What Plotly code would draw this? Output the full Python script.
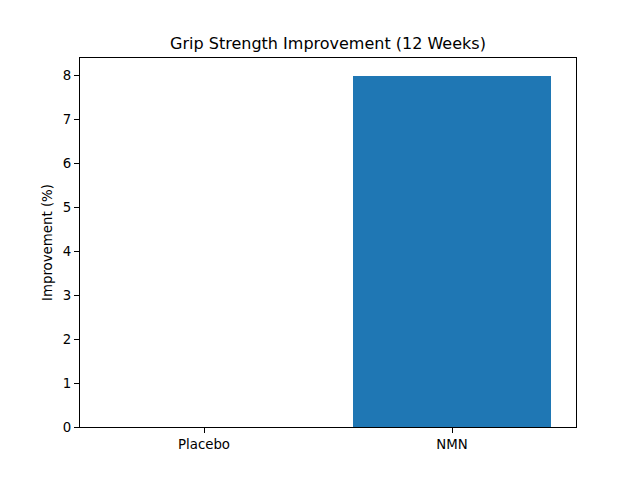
import plotly.graph_objects as go

# data
groups = ["Placebo", "NMN"]
improvement = [0, 8]

fig = go.Figure()
fig.add_trace(go.Bar(x=[0, 1], y=improvement,
                     width=0.8,
                     marker=dict(color="#1f77b4", line=dict(width=0))))

# page body adds an 8px offset, so margins are shifted to compensate
fig.update_layout(
    width=640, height=480,
    margin=dict(l=72, r=72, t=50, b=61),
    paper_bgcolor="white",
    plot_bgcolor="white",
    font=dict(family="DejaVu Sans", size=13.33, color="black"),
    title=dict(text="Grip Strength Improvement (12 Weeks)",
               x=(72 + 568) / 2 / 640, xanchor="center",
               y=1 - 35 / 480, yanchor="middle",
               font=dict(size=16)),
    showlegend=False,
    bargap=0,
)

fig.update_xaxes(
    range=[-0.5, 1.5], automargin=False,
    tickmode="array", tickvals=[0, 1], ticktext=groups,
    showgrid=False, zeroline=False,
    showline=True, linecolor="black", linewidth=1, mirror=True,
    ticks="outside", ticklen=5, tickcolor="black",
)
fig.update_yaxes(
    range=[0, 8.4], automargin=False,
    tickmode="array", tickvals=list(range(9)),
    showgrid=False, zeroline=False,
    showline=True, linecolor="black", linewidth=1, mirror=True,
    ticks="outside", ticklen=5, tickcolor="black",
    title=dict(text="Improvement (%)", standoff=7, font=dict(size=13.33)),
)

fig.write_html("out.html")
